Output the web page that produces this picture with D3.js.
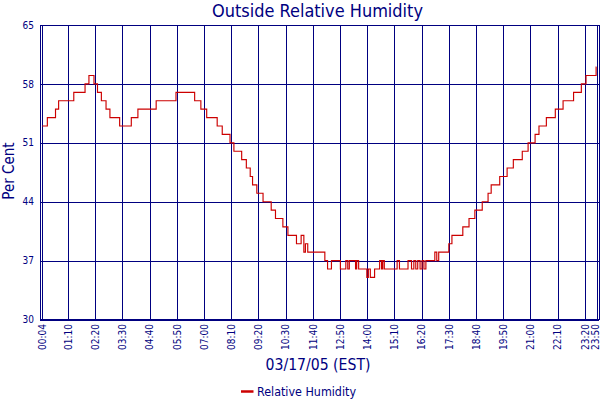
<!DOCTYPE html>
<html>
<head>
<meta charset="utf-8">
<script src="https://cdn.jsdelivr.net/npm/d3@7"></script>
<style>
  body { margin: 0; background: #fff; }
  text { font-family: 'DejaVu Sans Condensed', 'DejaVu Sans', sans-serif; fill: #000080; }
</style>
</head>
<body>
<div id="chart"></div>
<script>
// minutes after midnight where the reading changes, and the new reading
const changeMinutes = [
  4, 17, 38, 46, 85, 114, 124, 137, 146, 156, 168, 178, 203, 233, 250, 297,
  348, 396, 412, 427, 454, 467, 487, 497, 517, 529, 539, 545, 556, 572, 593,
  604, 623, 636, 658, 670, 677, 681, 687, 731, 738, 748, 771, 785, 790, 794,
  810, 813, 818, 839, 843, 848, 859, 872, 877, 880, 884, 917, 923, 945, 954,
  960, 965, 970, 976, 981, 986, 991, 1014, 1019, 1024, 1050, 1058, 1086, 1102,
  1117, 1136, 1151, 1159, 1181, 1200, 1216, 1239, 1254, 1272, 1282, 1301,
  1324, 1344, 1371, 1391, 1403, 1429, 1430
];
const humidity = [
  53, 54, 55, 56, 57, 58, 59, 58, 57, 56, 55, 54, 53, 54, 55, 56,
  57, 56, 55, 54, 53, 52, 51, 50, 49, 48, 47, 46, 45, 44, 43,
  42, 41, 40, 39, 40, 38, 39, 38, 37, 36, 37, 36, 37, 36, 37,
  36, 37, 36, 35, 36, 35, 36, 37, 36, 37, 36, 37, 36, 37, 36,
  37, 36, 37, 36, 37, 36, 37, 38, 37, 38, 39, 40, 41, 42,
  43, 44, 45, 46, 47, 48, 49, 50, 51, 52, 53, 54,
  55, 56, 57, 58, 59, 60, 60
];
const xTickLabels = [
  '00:04', '01:10', '02:20', '03:30', '04:40', '05:50', '07:00', '08:10',
  '09:20', '10:30', '11:40', '12:50', '14:00', '15:10', '16:20', '17:30',
  '18:40', '19:50', '21:00', '22:10', '23:20', '23:50'
];
const yTicks = [30, 37, 44, 51, 58, 65];

const navy = '#000080',
  red = '#cc0000',
  width = 600,
  height = 400,
  plot = { left: 40, top: 25, right: 599, bottom: 319.5 };

const toMinutes = (s) => +s.slice(0, 2) * 60 + +s.slice(3, 5);

const data = changeMinutes.map((m, i) => ({ minute: m, value: humidity[i] }));

const svg = d3
  .select('#chart')
  .append('svg')
  .attr('width', width)
  .attr('height', height);

const x = d3.scaleLinear().domain([4, 1430]).range([42.3, 596.5]);
const y = d3.scaleLinear().domain([30, 65]).range([plot.bottom, plot.top]);

// grid
svg
  .append('g')
  .selectAll('line')
  .data(yTicks)
  .join('line')
  .attr('x1', plot.left)
  .attr('x2', plot.right)
  .attr('y1', (d) => Math.round(y(d)) + 0.5)
  .attr('y2', (d) => Math.round(y(d)) + 0.5)
  .attr('stroke', navy);

svg
  .append('g')
  .selectAll('line')
  .data(xTickLabels)
  .join('line')
  .attr('x1', (d) => Math.round(x(toMinutes(d))) + 0.5)
  .attr('x2', (d) => Math.round(x(toMinutes(d))) + 0.5)
  .attr('y1', plot.top)
  .attr('y2', plot.bottom)
  .attr('stroke', navy);

svg
  .append('rect')
  .attr('x', plot.left + 0.5)
  .attr('y', plot.top + 0.5)
  .attr('width', plot.right - plot.left)
  .attr('height', plot.bottom - plot.top - 0.5)
  .attr('fill', 'none')
  .attr('stroke', navy);

// axes labels
svg
  .append('g')
  .selectAll('text')
  .data(yTicks)
  .join('text')
  .attr('x', 34)
  .attr('y', (d) => y(d))
  .attr('dy', '0.36em')
  .attr('text-anchor', 'end')
  .style('font-size', '10px')
  .text((d) => d);

svg
  .append('g')
  .selectAll('text')
  .data(xTickLabels)
  .join('text')
  .attr('transform', (d) => {
    const tx = Math.min(x(toMinutes(d)) + 3.8, 598.5);
    return `translate(${tx}, 324) rotate(-90)`;
  })
  .attr('text-anchor', 'end')
  .style('font-size', '10px')
  .text((d) => d);

const lineGenerator = d3
  .line()
  .x((d) => x(d.minute))
  .y((d) => y(d.value))
  .curve(d3.curveStepAfter);

svg
  .append('path')
  .datum(data)
  .attr('fill', 'none')
  .attr('stroke', red)
  .attr('stroke-width', 1.15)
  .attr('d', lineGenerator);

// titles
svg
  .append('text')
  .attr('x', 317.5)
  .attr('y', 16.5)
  .attr('text-anchor', 'middle')
  .attr('textLength', 211)
  .attr('lengthAdjust', 'spacingAndGlyphs')
  .style('font-size', '17px')
  .text('Outside Relative Humidity');

svg
  .append('text')
  .attr('transform', 'translate(14, 171) rotate(-90)')
  .attr('text-anchor', 'middle')
  .style('font-size', '15px')
  .text('Per Cent');

svg
  .append('text')
  .attr('x', 318)
  .attr('y', 369.5)
  .attr('text-anchor', 'middle')
  .attr('textLength', 105)
  .attr('lengthAdjust', 'spacingAndGlyphs')
  .style('font-size', '15px')
  .text('03/17/05 (EST)');

// legend
svg
  .append('line')
  .attr('x1', 241)
  .attr('x2', 253.5)
  .attr('y1', 391.5)
  .attr('y2', 391.5)
  .attr('stroke', red)
  .attr('stroke-width', 2.5);

svg
  .append('text')
  .attr('x', 257)
  .attr('y', 395.8)
  .attr('textLength', 99)
  .attr('lengthAdjust', 'spacingAndGlyphs')
  .style('font-size', '12px')
  .text('Relative Humidity');
</script>
</body>
</html>
